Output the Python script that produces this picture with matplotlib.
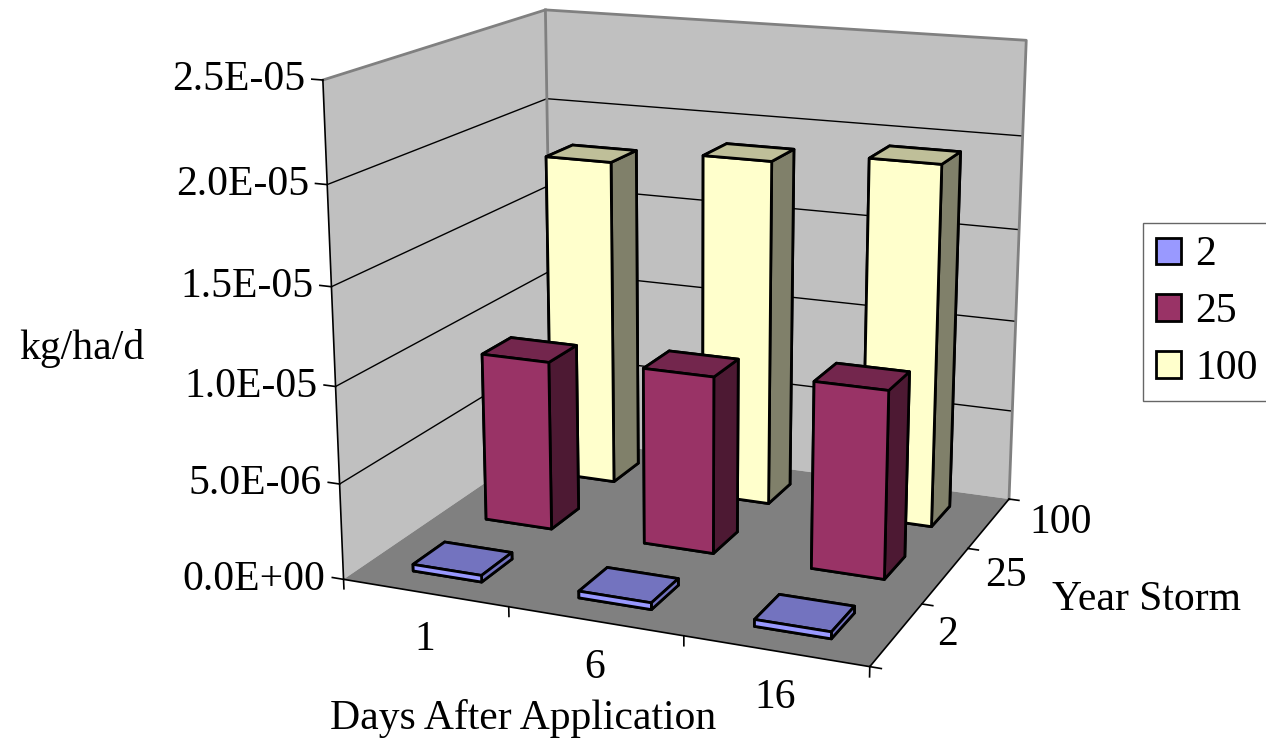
import numpy as np
import matplotlib.pyplot as plt
from matplotlib.patches import Patch
from matplotlib.transforms import offset_copy

plt.rcParams['font.family'] = ['Liberation Serif', 'DejaVu Serif']
plt.rcParams['font.size'] = 30

# data
days = ['1', '6', '16']
storms = ['2', '25', '100']
load_2 = [3.5e-7, 3.5e-7, 3.5e-7]
load_25 = [9.1e-6, 9.4e-6, 9.8e-6]
load_100 = [1.80e-5, 1.88e-5, 1.94e-5]
zticks = [0, 5e-6, 1e-5, 1.5e-5, 2e-5, 2.5e-5]
zlabels = ['0.0E+00', '5.0E-06', '1.0E-05', '1.5E-05', '2.0E-05', '2.5E-05']

# front, top, side face colours
colors = [('#9999FF', '#7373BF', '#7373BF'),
          ('#993366', '#73264D', '#4D1933'),
          ('#FFFFCC', '#BFBF99', '#80806A')]
series = [load_2, load_25, load_100]

zmax = zticks[-1]
nx, ny = len(days), len(storms)
w = 0.42

fig = plt.figure(figsize=(12.66, 7.41), dpi=100)
ax = fig.add_axes([0.038, 0.075, 1, 1], projection='3d')
ax.set_proj_type('persp', focal_length=0.6)
ax.view_init(elev=15.5, azim=-67.5)
ax.set_box_aspect((1.15, 1.0, 1.05), zoom=1.145)
ax.set_xlim(0, nx)
ax.set_ylim(0, ny)
ax.set_zlim(0, zmax)
ax.computed_zorder = False
for a, c in ((ax.xaxis, '#C0C0C0'), (ax.yaxis, '#C0C0C0'), (ax.zaxis, '#808080')):
    a.set_pane_color(c)
    a.pane.set_edgecolor('none')
    a.line.set_color('none')
    a.set_ticks([])
ax.grid(False)

# wall gridlines and edges
for t in zticks[1:-1]:
    ax.plot([0, nx], [ny, ny], [t, t], color='black', lw=1, zorder=1)
    ax.plot([0, 0], [0, ny], [t, t], color='black', lw=1, zorder=1)
grey = '#808080'
ax.plot([0, 0, nx, nx], [0, ny, ny, ny], [zmax, zmax, zmax, 0], color=grey, lw=2, zorder=1)
ax.plot([0, 0], [ny, ny], [0, zmax], color=grey, lw=2, zorder=1)
ax.plot([0, 0, nx, nx], [0, 0, 0, ny], [zmax, 0, 0, 0], color='black', lw=1.2, zorder=2)

# bars, back row first
xs = np.arange(nx) + 0.5 - w / 2
for row in range(ny - 1, -1, -1):
    front, top, side = colors[row]
    faces = [top, top, front, side, side, side] * nx
    ax.bar3d(xs, np.full(nx, row + 0.5 - w / 2), np.zeros(nx), w, w, series[row],
             color=faces, shade=False, edgecolor='black', linewidth=2, zorder=10 - row)

# value axis ticks
for t, lab in zip(zticks, zlabels):
    ax.plot([-0.07, 0], [0, 0], [t, t], color='black', lw=1.2, zorder=2)
    ax.text(0, 0, t, lab, ha='right', va='center',
            transform=offset_copy(ax.transData, fig=fig, x=-18, y=0, units='dots'))
# category ticks
for b in range(nx + 1):
    ax.plot([b, b], [0, 0], [0, -0.02 * zmax], color='black', lw=1.2, zorder=2)
for i, lab in enumerate(days):
    ax.text(i + 0.5, 0, 0, lab, ha='center', va='center',
            transform=offset_copy(ax.transData, fig=fig, x=0, y=-47, units='dots'))
# depth ticks
for b in range(ny + 1):
    ax.plot([nx, nx + 0.06], [b, b], [0, 0], color='black', lw=1.2, zorder=2)
for j, lab in enumerate(storms):
    ax.text(nx, j + 0.5, 0, lab, ha='left', va='center',
            transform=offset_copy(ax.transData, fig=fig, x=40, y=0, units='dots'))

fig.text(523 / 1266, 1 - 718 / 741, 'Days After Application', ha='center', va='center')
fig.text(1147 / 1266, 1 - 600 / 741, 'Year Storm', ha='center', va='center')
fig.text(82 / 1266, 1 - 348 / 741, 'kg/ha/d', ha='center', va='center')

handles = [Patch(facecolor=c[0], edgecolor='black', linewidth=2) for c in colors]
fig.legend(handles, storms, loc='upper left', bbox_to_anchor=(1143 / 1266, 1 - 223 / 741),
           frameon=True, fancybox=False, edgecolor='#666666', framealpha=1,
           handlelength=0.6, handleheight=0.6, handletextpad=0.34,
           labelspacing=0.44, borderpad=0.31, borderaxespad=0)

fig.savefig('out.png', dpi=100)
